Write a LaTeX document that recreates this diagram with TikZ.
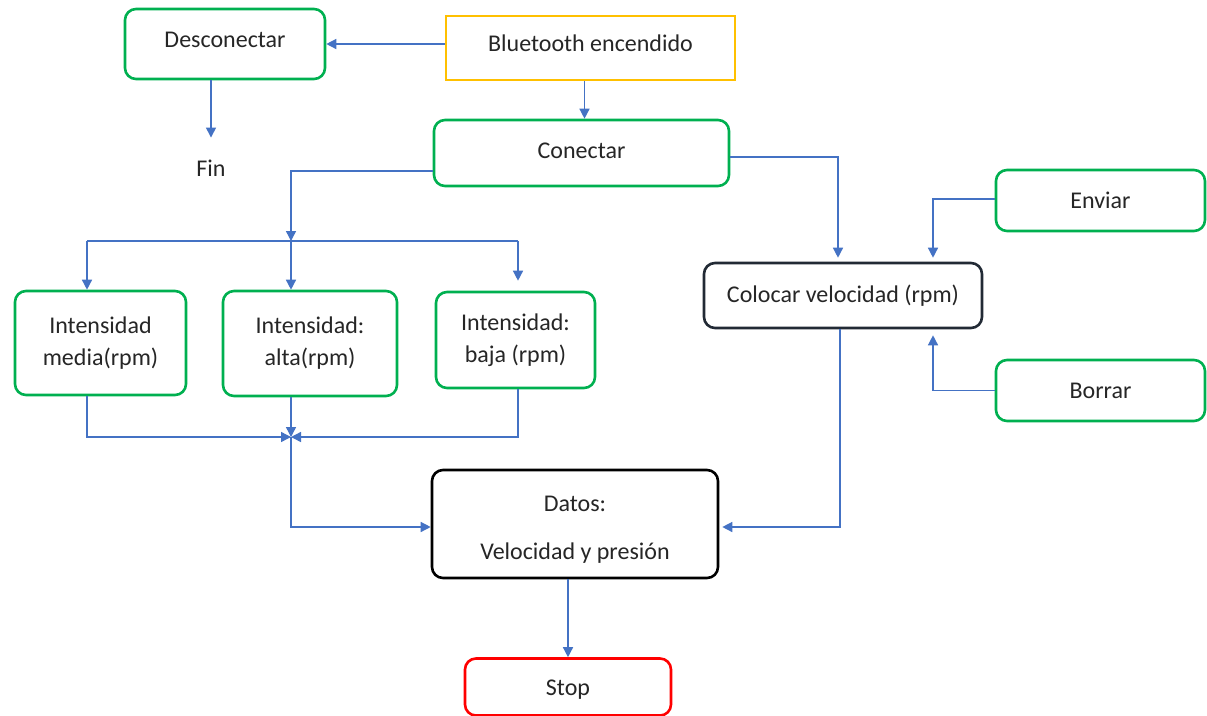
\documentclass[tikz,border=0pt]{standalone}
\usepackage{fontspec}
\setmainfont{Carlito}
\usetikzlibrary{arrows.meta,calc}
\definecolor{gr}{HTML}{00B050}
\definecolor{yl}{HTML}{FFC000}
\definecolor{rd}{HTML}{FF0000}
\definecolor{ln}{HTML}{4472C4}
\definecolor{dk}{HTML}{222A35}
\begin{document}
\begin{tikzpicture}[x=1pt,y=-1pt,
  every node/.style={font=\fontsize{24}{32}\selectfont, text=black!85, inner sep=0pt, align=center},
  bx/.style={draw, line width=2.6pt, rounded corners=11pt, fill=white, minimum width=#1},
  gbox/.style={bx=#1, draw=gr},
  arr/.style={draw=ln, line width=1.4pt, -{Triangle[length=10pt,width=10pt]}},
  ln/.style={draw=ln, line width=1.4pt}]
\useasboundingbox (0,0) rectangle (1207,715);
\fill[white] (0,0) rectangle (1207,715);

\node[gbox=200pt, minimum height=70pt] (desc) at (225,44) {\raisebox{9pt}{Desconectar}};
\node[draw=yl, line width=2.6pt, minimum width=289pt, minimum height=64pt] (bt) at (590.5,48) {\raisebox{9pt}{Bluetooth encendido}};
\node (fin) at (211,168) {Fin};
\node[gbox=295pt, minimum height=66pt] (con) at (581.5,153) {\raisebox{5pt}{Conectar}};
\node[gbox=171pt, minimum height=104pt] (media) at (100.5,343) {Intensidad\\media(rpm)};
\node[gbox=174pt, minimum height=105pt] (alta) at (310,343.5) {Intensidad:\\alta(rpm)};
\node[gbox=159pt, minimum height=96pt] (baja) at (515.5,340) {Intensidad:\\baja (rpm)};
\node[bx=278pt, draw=dk, minimum height=65pt] (col) at (843,295.5) {Colocar velocidad (rpm)};
\node[gbox=209pt, minimum height=61pt] (env) at (1100.5,200.5) {Enviar};
\node[gbox=209pt, minimum height=61pt] (bor) at (1100.5,390.5) {Borrar};
\node[bx=286pt, draw=black, minimum height=108pt] (datos) at (575,524) {\raisebox{0pt}[\dimexpr\height+10pt\relax][\depth]{\begin{tabular}{@{}c@{}}Datos:\\[16pt]Velocidad y presión\end{tabular}}};
\node[bx=206pt, draw=rd, minimum height=57pt] (stop) at (568,687) {\raisebox{0pt}[\dimexpr\height+6pt\relax][\depth]{Stop}};

\coordinate (j1) at (291,241);
\coordinate (j2) at (291,437);
\coordinate (jm) at (87,241);
\coordinate (jb) at (518,241);

\draw[arr] (bt.west |- desc.east) -- (desc.east);
\draw[arr, shorten >=22pt] (desc.south -| fin) -- (fin.north);
\draw[arr] ([xshift=3pt]bt.south -| con.north) -- ([xshift=3pt]con.north);
\draw[arr] ([yshift=-18pt]con.west) -| (j1);
\draw[ln] (jm) -- (jb);
\draw[arr] (jm) -- (jm |- media.north);
\draw[arr] (j1) -- (j1 |- alta.north);
\draw[arr, shorten >=10pt] (jb) -- (jb |- baja.north);
\draw[arr] (jm |- media.south) |- (j2);
\draw[arr] (j1 |- alta.south) -- (j2);
\draw[arr] (jb |- baja.south) |- (j2);
\draw[arr] (j2) |- ([yshift=-3pt]datos.west);
\draw[arr, shorten >=4pt] ([yshift=-4pt]con.east) -| ([xshift=-5pt]col.north);
\draw[arr, shorten >=4pt] ([yshift=1.5pt]env.west) -| ([xshift=90pt]col.north);
\draw[arr, shorten >=6pt] (bor.west) -| ([xshift=90pt]col.south);
\draw[arr, shorten >=3pt] ([xshift=-3pt]col.south) |- ([yshift=-3pt]datos.east);
\draw[arr] (datos.south -| stop.north) -- (stop.north);
\end{tikzpicture}
\end{document}
